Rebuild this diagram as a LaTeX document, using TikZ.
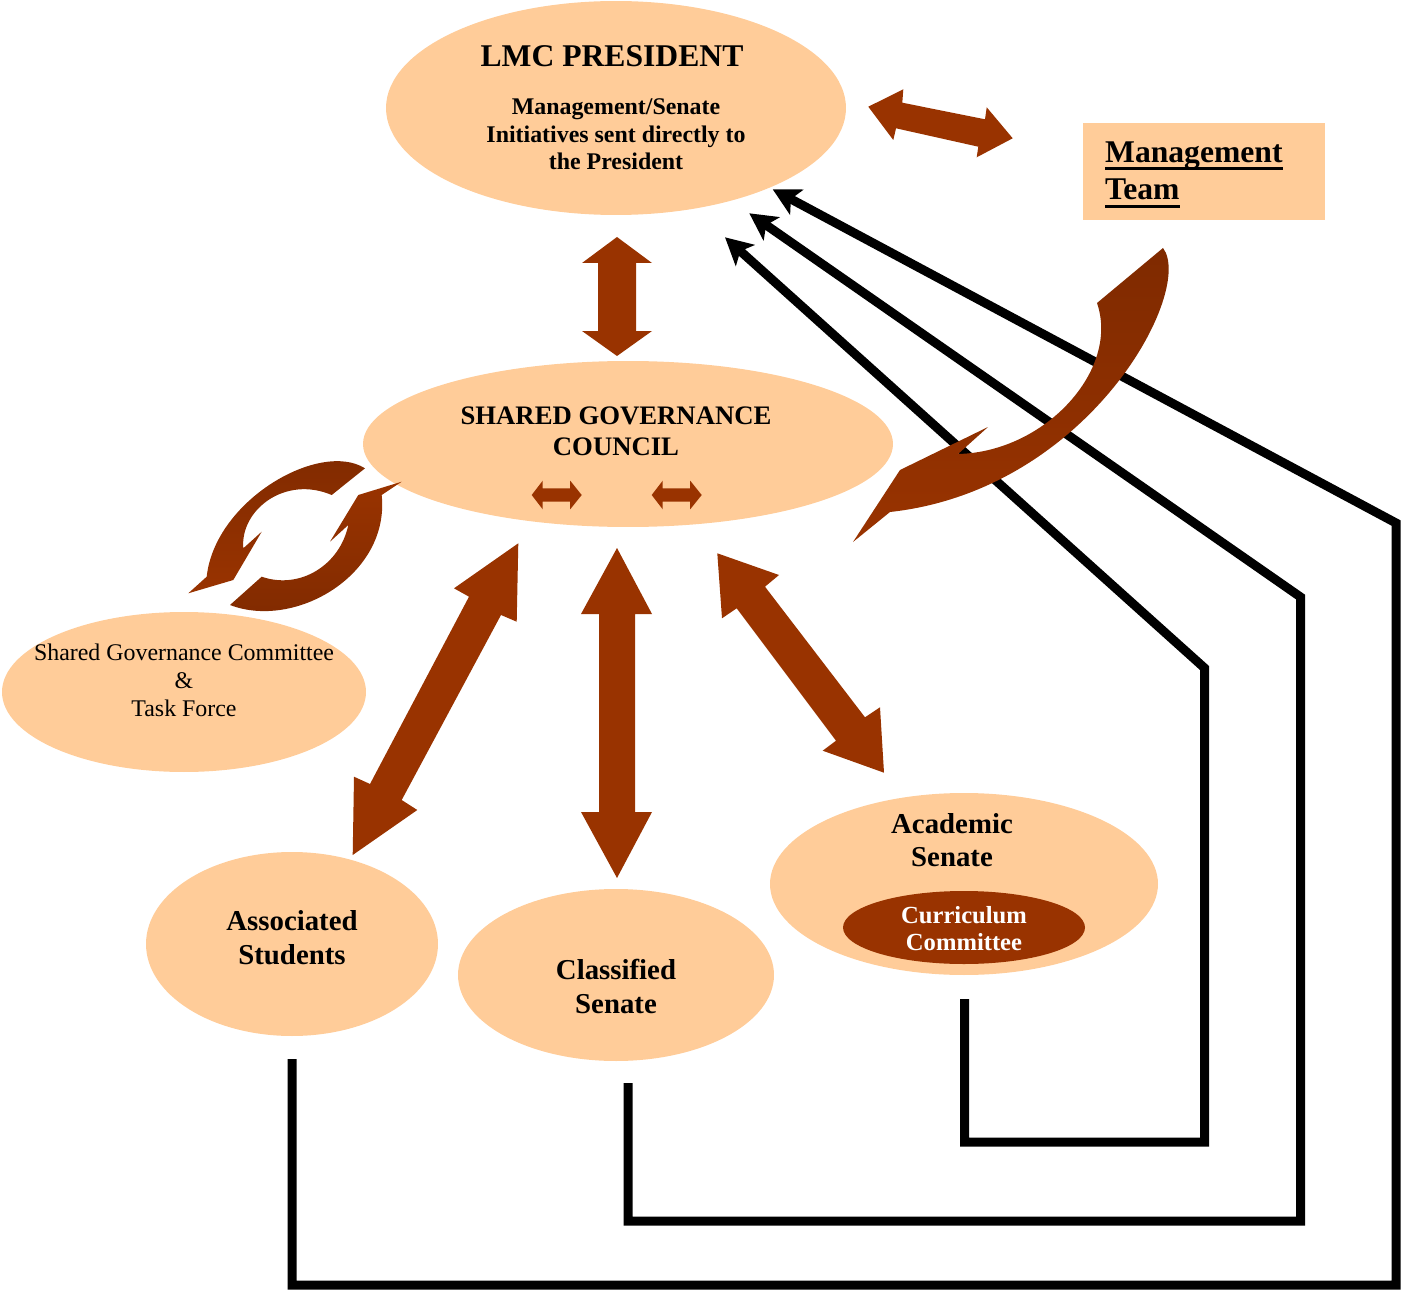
\documentclass[tikz,border=0pt]{standalone}
\usepackage{fontspec}
\setmainfont{Liberation Serif}
\usetikzlibrary{shapes.geometric,arrows.meta,calc}
\definecolor{peach}{HTML}{FFCC99}
\definecolor{rust}{HTML}{993300}
\definecolor{darkrust}{HTML}{7F2A00}
\newcommand\fTitle{\fontsize{45}{50}\selectfont\bfseries}
\newcommand\fSub{\fontsize{34}{39}\selectfont\bfseries}
\newcommand\fSGC{\fontsize{38}{44}\selectfont\bfseries}
\newcommand\fCom{\fontsize{34}{40}\selectfont}
\newcommand\fBody{\fontsize{41}{48}\selectfont\bfseries}
\newcommand\fCur{\fontsize{35}{37}\selectfont\bfseries}
\tikzset{
  blob/.style={ellipse, fill=peach, inner sep=0pt, draw=none},
  txt/.style={anchor=base, inner sep=0pt, font=#1},
  blockarr/.style={fill=rust},
  conn/.style={line width=0.45cm, line join=miter, draw=black,
    -{Stealth[length=1.35cm,width=1.4cm,inset=0.32cm]}},
  uline/.style={line width=0.15cm, draw=black},
}
\begin{document}
\begin{tikzpicture}[x=0.05cm,y=-0.05cm]
\useasboundingbox (0,0) rectangle (1401,1290);

% ---- boxes / ellipses ----
\node[blob, minimum width=23cm, minimum height=10.7cm] (pres) at (616,108) {};
\node[fill=peach, inner sep=0pt, minimum width=12.1cm, minimum height=4.87cm] (mt) at (1204,171.5) {};
\node[blob, minimum width=26.5cm, minimum height=8.3cm] (sgc) at (628,444) {};
\node[blob, minimum width=18.2cm, minimum height=8cm] (sgcc) at (184,692) {};
\node[blob, minimum width=14.6cm, minimum height=9.2cm] (as) at (292,944) {};
\node[blob, minimum width=15.8cm, minimum height=8.6cm] (cs) at (616,975) {};
\node[blob, minimum width=19.4cm, minimum height=9.1cm] (ac) at (964,884) {};
\node[ellipse, fill=rust, inner sep=0pt, minimum width=12.1cm, minimum height=3.65cm] (cc) at (964,927.5) {};

% ---- texts ----
\node[txt=\fTitle] (tpres) at (612,67) {LMC PRESIDENT};
\node[txt=\fSub] (tp1) at (616,115) {Management/Senate};
\node[txt=\fSub] (tp2) at (616,143) {Initiatives sent directly to};
\node[txt=\fSub] (tp3) at (616,170) {the President};

\node[txt=\fTitle, anchor=base west] (tm1) at (1105,163) {Management};
\node[txt=\fTitle, anchor=base west] (tm2) at (1105,200) {Team};
\draw[uline] ($(tm1.base west)+(0,6)$) -- ($(tm1.base east)+(0,6)$);
\draw[uline] ($(tm2.base west)+(0,7)$) -- ($(tm2.base east)+(0,7)$);

\node[txt=\fSGC] (ts1) at (616,424) {SHARED GOVERNANCE};
\node[txt=\fSGC] (ts2) at (616,455) {COUNCIL};

\node[txt=\fCom] (tc1) at (184,660) {Shared Governance Committee};
\node[txt=\fCom] (tc2) at (184,688) {\&};
\node[txt=\fCom] (tc3) at (184,716) {Task Force};

\node[txt=\fBody] (ta1) at (292,930) {Associated};
\node[txt=\fBody] (ta2) at (292,964) {Students};

\node[txt=\fBody] (tcl1) at (616,979) {Classified};
\node[txt=\fBody] (tcl2) at (616,1013) {Senate};

\node[txt=\fBody] (tac1) at (952,833) {Academic};
\node[txt=\fBody] (tac2) at (952,866) {Senate};

\node[txt=\fCur, text=white] (tcc1) at (964,923) {Curriculum};
\node[txt=\fCur, text=white] (tcc2) at (964,950) {Committee};

% ---- small double arrows inside SGC ----
\foreach \cx in {556.7,676.7}{
  \fill[blockarr, shift={(\cx,495)}] (-25,0) -- (-14,-14.3) -- (-14,-6.7) -- (13.5,-6.7) -- (13.5,-14.3)
    -- (25,0) -- (13.5,14.3) -- (13.5,6.7) -- (-14,6.7) -- (-14,14.3) -- cycle;
}

% ---- block double arrows ----
% president <-> management team
\fill[blockarr] (868.3,106.7) -- (903.3,89.3) -- (902.3,102.7) -- (985,119.3) -- (986.7,107.3)
  -- (1012.7,138.3) -- (976.7,157.3) -- (978.3,146.7) -- (896,128.3) -- (893.3,140) -- cycle;
% president <-> SGC
\fill[blockarr] (617,237) -- (652,263) -- (636,263) -- (636,331) -- (652,331) -- (617,356)
  -- (582,331) -- (598,331) -- (598,263) -- (582,263) -- cycle;
% SGC <-> associated students
\fill[blockarr] (518.3,543.3) -- (516.7,621.7) -- (501,615) -- (401.7,800) -- (417.3,810)
  -- (352.7,855) -- (354,776.7) -- (370,784) -- (469,596.7) -- (454,588.3) -- cycle;
% SGC <-> classified senate
\fill[blockarr] (617,548) -- (652,614) -- (635,614) -- (635,812) -- (652,812) -- (617,878)
  -- (581,812) -- (599,812) -- (599,614) -- (581,614) -- cycle;
% SGC <-> academic senate
\fill[blockarr] (717.3,553.3) -- (779,575) -- (765,586.7) -- (865,717.3) -- (880,707.3)
  -- (884,772.7) -- (822.7,750.7) -- (836,740.7) -- (736.7,608.3) -- (722,618.3) -- cycle;

% ---- circular arrows between SGC and committee ----
\shade[top color=darkrust, bottom color=rust]
  (365,468.3) .. controls (320,440) and (215,500) .. (206.7,576.7) -- (188.3,593.3)
  -- (233.3,580) -- (261.7,531.7) -- (243.3,548.3)
  .. controls (240,510) and (285,475) .. (331.7,495) -- cycle;
\shade[top color=rust, bottom color=darkrust]
  (230,605) .. controls (295,630) and (390,575) .. (381.7,495) -- (401.7,481.7)
  -- (358.3,495) -- (330,541.7) -- (348.3,525)
  .. controls (340,565) and (300,590) .. (261.7,576.7) -- cycle;

% ---- black connectors to the president ----
\coordinate (asS) at ($(as.south)+(0,23)$);
\coordinate (csS) at ($(cs.south)+(12,22)$);
\coordinate (acS) at ($(ac.south)+(0.5,24)$);
\coordinate (tipA) at (772.7,189.3);
\coordinate (tipB) at (749.3,213.3);
\coordinate (tipC) at (725,237.3);
\draw[conn] (asS) -- (292,1285) -- (1396,1285) -- (1396,523) -- (tipA);
\draw[conn] (csS) -- (628,1221) -- (1300.5,1221) -- (1300.5,597) -- (tipB);
\draw[conn] (acS) -- (964.5,1142) -- (1204.5,1142) -- (1204.5,668) -- (tipC);

% ---- curved arrow from management team to SGC ----
\shade[top color=darkrust, bottom color=rust]
  (853,542) -- (900,470) -- (988,427) -- (958,454)
  .. controls (1045,452) and (1120,370) .. (1097,303) -- (1163,248)
  .. controls (1195,290) and (1090,490) .. (890,512) -- cycle;
\end{tikzpicture}
\end{document}
